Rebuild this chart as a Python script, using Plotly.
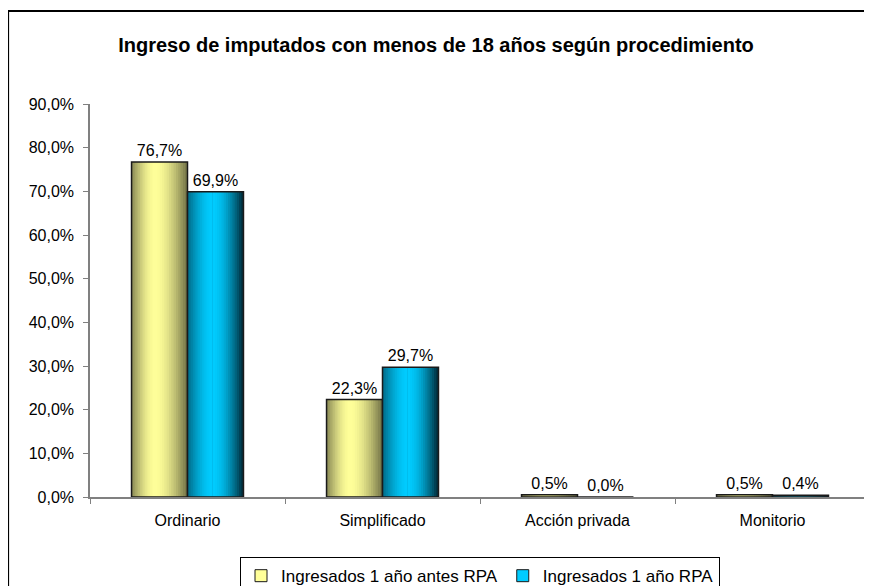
import math
import plotly.graph_objects as go

# datos
categorias = ['Ordinario', 'Simplificado', 'Acción privada', 'Monitorio']
antes_rpa = [76.7, 22.3, 0.5, 0.5]
con_rpa = [69.9, 29.7, 0.0, 0.4]
nombres = ['Ingresados 1 año antes RPA', 'Ingresados 1 año RPA']
y_ticks = [0, 10, 20, 30, 40, 50, 60, 70, 80, 90]
y_ticktext = [f'{v:.1f}%'.replace('.', ',') for v in y_ticks]


def mezcla(c1, c2, t):
    a = [int(c1[i:i + 2], 16) for i in (1, 3, 5)]
    b = [int(c2[i:i + 2], 16) for i in (1, 3, 5)]
    return 'rgb({},{},{})'.format(*[round(a[i] + (b[i] - a[i]) * t) for i in range(3)])


W = 0.287  # ancho de cada barra (en unidades de categoría)
N = 14     # capas para simular el degradado

series = [
    # valores, nombre, inicio, borde izq, centro claro, borde der, posicion del brillo
    (antes_rpa, nombres[0], -W, '#8E8E58', '#FFFF99', '#78784A', 0.42),
    (con_rpa, nombres[1], 0.0, '#00708E', '#00CCFF', '#00303F', 0.45),
]

fig = go.Figure()

for vals, nombre, ini, izq, claro, der, p in series:
    # mitad izquierda del degradado
    for k in range(N):
        t = k / N
        tc = math.sin(t * math.pi / 2)
        x0 = ini + t * p * W
        fig.add_trace(go.Bar(x=categorias, y=vals, offset=x0, width=ini + p * W - x0,
                             marker=dict(color=mezcla(izq, claro, tc), line_width=0),
                             showlegend=False, hoverinfo='skip'))
    # mitad derecha del degradado
    for k in range(N):
        t = k / N
        tc = math.sin(t * math.pi / 2)
        x1 = ini + W - t * (1 - p) * W
        fig.add_trace(go.Bar(x=categorias, y=vals, offset=ini + p * W, width=x1 - (ini + p * W),
                             marker=dict(color=mezcla(der, claro, tc), line_width=0),
                             showlegend=False, hoverinfo='skip'))
    # contorno y etiquetas
    fig.add_trace(go.Bar(x=categorias, y=vals, offset=ini, width=W,
                         marker=dict(color='rgba(0,0,0,0)', line=dict(color='#1a1a1a', width=1.5)),
                         text=vals, texttemplate='%{y:.1f}%', textposition='outside',
                         textfont=dict(size=16, color='black'), cliponaxis=False,
                         showlegend=False, name=nombre))
    # entrada de leyenda
    fig.add_trace(go.Bar(x=[None], y=[None], name=nombre,
                         marker=dict(color=claro, line=dict(color='#1a1a1a', width=1))))

# la página añade 8px de margen al cuerpo: se compensa aquí
fig.update_layout(
    barmode='overlay',
    separators=',.',
    width=872, height=586,
    margin=dict(l=82, r=10, t=96, b=97, autoexpand=False),
    paper_bgcolor='white', plot_bgcolor='white',
    font=dict(family='Liberation Sans, Arial, sans-serif', size=16, color='black'),
    title=dict(text='<b>Ingreso de imputados con menos de 18 años según procedimiento</b>',
               x=428 / 872, xref='container', xanchor='center',
               y=1 - 37 / 586, yref='container', yanchor='middle',
               font=dict(size=20, color='black')),
    legend=dict(orientation='h', x=0.5, xanchor='center', y=-0.153, yanchor='top',
                bordercolor='black', borderwidth=1, font=dict(size=17),
                itemwidth=30, traceorder='normal'),
    shapes=[dict(type='rect', xref='paper', yref='paper',
                 x0=-0.105, x1=1.1, y0=-0.3, y1=1.2366,
                 line=dict(color='black', width=2), fillcolor='rgba(0,0,0,0)', layer='below')],
)

fig.update_xaxes(type='category', showline=True, linecolor='#808080', linewidth=1.5,
                 ticks='outside', tickson='boundaries', ticklen=5, tickcolor='#808080',
                 ticklabelstandoff=8, showgrid=False, range=[-0.5, 3.5])
fig.update_yaxes(range=[0, 90], tickvals=y_ticks, ticktext=y_ticktext,
                 showline=True, linecolor='#808080', linewidth=1.5,
                 ticks='outside', ticklen=5, tickcolor='#808080',
                 ticklabelstandoff=6, showgrid=False, zeroline=False)

fig.write_html('out.html')
